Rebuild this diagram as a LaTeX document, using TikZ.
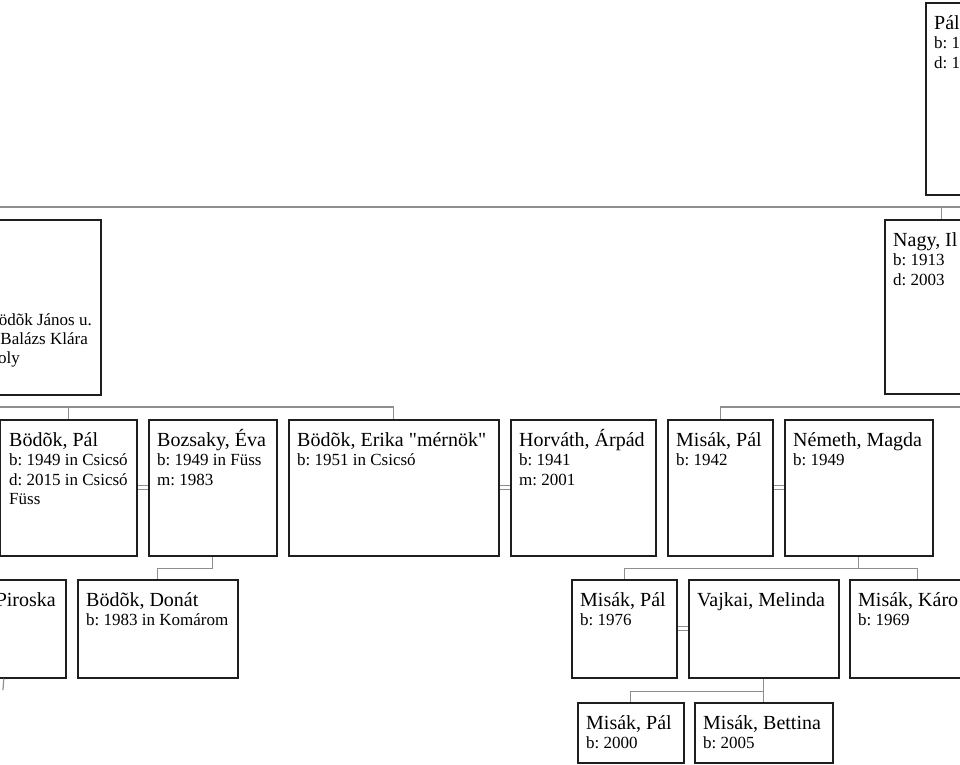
\documentclass[tikz,border=0pt]{standalone}
\usepackage{fontspec}
\setmainfont{Liberation Serif}[Ligatures=TeXOff]
\frenchspacing
\definecolor{boxcol}{HTML}{1E1E1E}
\definecolor{conncol}{HTML}{8E8E8E}
\newcommand{\namefont}{\fontsize{20}{24}\selectfont}
\newcommand{\detfont}{\fontsize{17}{19.5}\selectfont}
\newcommand{\ptext}[2]{\parbox[t]{400pt}{\detfont{\namefont #1}\par #2}}
\tikzset{
  pbox/.style={draw=boxcol, line width=1.5pt, inner sep=0pt, anchor=north west, fill=white},
  txt/.style={inner sep=0pt, anchor=base west, xshift=9pt, yshift=-27pt, text=black},
  rtxt/.style={inner sep=0pt, anchor=base east, text=black, font=\detfont},
  conn/.style={draw=conncol, line width=1.2pt},
  marr/.style={draw=conncol, line width=1pt}
}
\begin{document}
\begin{tikzpicture}[x=1pt, y=-1pt]
\useasboundingbox (0,0) rectangle (960,764);
\clip (0,0) rectangle (960,764);

% connectors with free ends
\coordinate (L1) at (-5,207);
\coordinate (R1) at (965,207);
\coordinate (L2) at (-5,407);
\coordinate (R2) at (965,407);
\coordinate (P1) at (3,690);

% boxes
\node[pbox, minimum width=114pt, minimum height=192pt] (paltop) at (925,2) {};
\node[pbox, minimum width=114pt, minimum height=174pt] (nagy) at (884,219) {};
\node[pbox, minimum width=200pt, minimum height=175pt] (tl) at (-100,219) {};

\node[pbox, minimum width=137pt, minimum height=136pt] (palb) at (-1,419) {};
\node[pbox, minimum width=128pt, minimum height=136pt] (eva) at (148,419) {};
\node[pbox, minimum width=210pt, minimum height=136pt] (erika) at (288,419) {};
\node[pbox, minimum width=145pt, minimum height=136pt] (horvath) at (510,419) {};
\node[pbox, minimum width=105pt, minimum height=136pt] (misak42) at (667,419) {};
\node[pbox, minimum width=148pt, minimum height=136pt] (nemeth) at (784,419) {};

\node[pbox, minimum width=124pt, minimum height=98pt] (piroska) at (-59,579) {};
\node[pbox, minimum width=160pt, minimum height=98pt] (donat) at (77,579) {};
\node[pbox, minimum width=105pt, minimum height=98pt] (misak76) at (571,579) {};
\node[pbox, minimum width=150pt, minimum height=98pt] (vajkai) at (688,579) {};
\node[pbox, minimum width=136pt, minimum height=98pt] (karoly) at (849,579) {};

\node[pbox, minimum width=106pt, minimum height=60pt] (misak00) at (577,702) {};
\node[pbox, minimum width=138pt, minimum height=60pt] (bettina) at (694,702) {};

% texts
\node[txt] (t-paltop) at (paltop.north west) {\ptext{Pál}{b: 1\\d: 1}};
\node[txt] (t-nagy) at (nagy.north west) {\ptext{Nagy, Il}{b: 1913\\d: 2003}};
\node[rtxt] (t-tl1) at (92,325) {ödõk János u.};
\node[rtxt] (t-tl2) at (88,344) {Balázs Klára};
\node[rtxt] (t-tl3) at (20,363) {oly};

\node[txt, xshift=1pt] (t-palb) at (palb.north west) {\ptext{Bödõk, Pál}{b: 1949 in Csicsó\\d: 2015 in Csicsó\\Füss}};
\node[txt] (t-eva) at (eva.north west) {\ptext{Bozsaky, Éva}{b: 1949 in Füss\\m: 1983}};
\node[txt] (t-erika) at (erika.north west) {\ptext{Bödõk, Erika "mérnök"}{b: 1951 in Csicsó}};
\node[txt] (t-horvath) at (horvath.north west) {\ptext{Horváth, Árpád}{b: 1941\\m: 2001}};
\node[txt] (t-misak42) at (misak42.north west) {\ptext{Misák, Pál}{b: 1942}};
\node[txt] (t-nemeth) at (nemeth.north west) {\ptext{Németh, Magda}{b: 1949}};

\node[rtxt, font=\namefont] (t-piroska) at (56,606) {Piroska};
\node[txt] (t-donat) at (donat.north west) {\ptext{Bödõk, Donát}{b: 1983 in Komárom}};
\node[txt] (t-misak76) at (misak76.north west) {\ptext{Misák, Pál}{b: 1976}};
\node[txt] (t-vajkai) at (vajkai.north west) {\ptext{Vajkai, Melinda}{}};
\node[txt] (t-karoly) at (karoly.north west) {\ptext{Misák, Káro}{b: 1969}};
\node[txt] (t-misak00) at (misak00.north west) {\ptext{Misák, Pál}{b: 2000}};
\node[txt] (t-bettina) at (bettina.north west) {\ptext{Misák, Bettina}{b: 2005}};

% connectors
\draw[conn] (L1) -- (R1);
\draw[conn] (nagy.north) -- (nagy.north |- R1);
\draw[conn] (L2) -| (erika.north);
\draw[conn] (palb.north) -- (palb.north |- L2);
\draw[conn] (R2) -| (misak42.north);

\foreach \a/\b in {palb/eva, erika/horvath, misak42/nemeth, misak76/vajkai}{
  \draw[marr] ([yshift=2pt]\a.east) -- ([yshift=2pt]\b.west);
  \draw[marr] ([yshift=-2pt]\a.east) -- ([yshift=-2pt]\b.west);
}

\draw[conn] (eva.south) -- ++(0,12) -| (donat.north);
\draw[conn] (nemeth.south) -- ++(0,12) -| (misak76.north);
\draw[conn] (nemeth.south) ++(0,12) -| (karoly.north);
\draw[conn] (vajkai.south) -- ++(0,13) -| (misak00.north);
\draw[conn] (vajkai.south) -- (bettina.north);
\draw[conn] (piroska.south) -- (P1);
\end{tikzpicture}
\end{document}
